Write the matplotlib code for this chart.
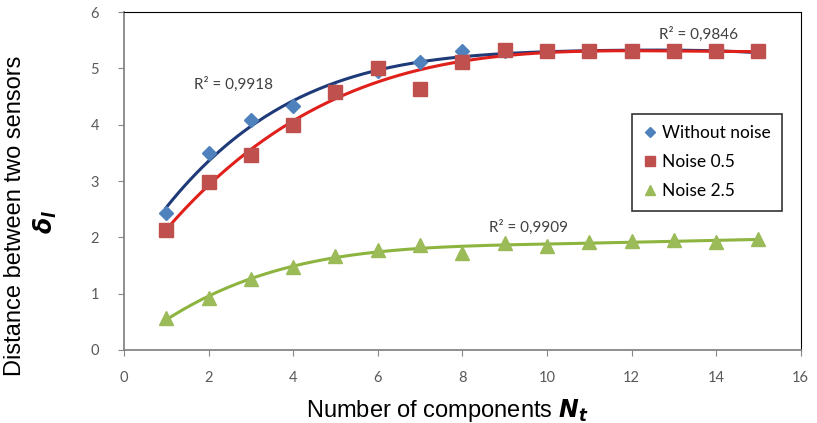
import numpy as np
import matplotlib
matplotlib.use("Agg")
import matplotlib.pyplot as plt

# data
n_comp = np.arange(1, 16)
no_noise = [2.43, 3.50, 4.08, 4.34, 4.60, 4.95, 5.12, 5.30, 5.30, 5.30, 5.30, 5.30, 5.30, 5.30, 5.30]
noise_05 = [2.13, 2.99, 3.47, 3.99, 4.58, 5.00, 4.63, 5.12, 5.33, 5.30, 5.30, 5.30, 5.30, 5.30, 5.30]
noise_25 = [0.56, 0.92, 1.26, 1.48, 1.66, 1.77, 1.87, 1.72, 1.90, 1.85, 1.91, 1.93, 1.96, 1.91, 1.97]
series_names = ["Without noise", "Noise 0.5", "Noise 2.5"]
r2_labels = ["R² = 0,9918", "R² = 0,9846", "R² = 0,9909"]

tick_font = "Lato"
label_font = "Liberation Sans"

fig = plt.figure(figsize=(8.17, 4.23), dpi=100)
ax = fig.add_axes([0.1518, 0.1726, 0.8282, 0.799])

styles = [
    dict(marker="D", ms=7, color="#4F81BD", line="#1F3A78"),
    dict(marker="s", ms=10, color="#C0504D", line="#E0201B"),
    dict(marker="^", ms=10, color="#9BBB59", line="#8DB43F"),
]

xs = np.linspace(1, 15, 200)
for vals, name, st in zip([no_noise, noise_05, noise_25], series_names, styles):
    ax.plot(n_comp, vals, linestyle="none", marker=st["marker"], ms=st["ms"],
            color=st["color"], label=name, zorder=3)
    # polynomial trendline like excel
    coef = np.polyfit(n_comp, vals, 4)
    ax.plot(xs, np.polyval(coef, xs), color=st["line"], lw=2.2, zorder=2)

r2_pos = [(1.65, 4.72), (12.65, 5.61), (8.63, 2.17)]
for (tx, ty), txt in zip(r2_pos, r2_labels):
    ax.text(tx, ty, txt, fontsize=11, color="#404040", family=tick_font, va="center")

ax.set_xlim(0, 16)
ax.set_ylim(0, 6)
ax.set_xticks(range(0, 17, 2))
ax.set_yticks(range(0, 7))
ax.tick_params(direction="out", length=4, color="#868686", labelcolor="#595959",
               labelsize=10.5, pad=11)
ax.tick_params(axis="y", pad=14)
for lbl in ax.get_xticklabels() + ax.get_yticklabels():
    lbl.set_family(tick_font)
ax.spines["left"].set_color("#868686")
ax.spines["bottom"].set_color("#868686")
ax.spines["left"].set_linewidth(1.3)
ax.spines["bottom"].set_linewidth(1.3)
ax.spines["top"].set_color("#000000")
ax.spines["right"].set_color("#000000")

leg = ax.legend(loc="upper left", bbox_to_anchor=(0.75, 0.698), frameon=True,
                fancybox=False, edgecolor="black", handlelength=0.8, handletextpad=0.3,
                labelspacing=0.75, borderpad=0.65, prop={"family": tick_font, "size": 12.5},
                markerscale=0.75, borderaxespad=0)
leg.get_frame().set_linewidth(1.2)

fig.text(0.018, 0.49, "Distance between two sensors", rotation=90, ha="center",
         va="center", fontsize=17, family=label_font)
fig.text(0.056, 0.475, r"$\mathbfit{\delta}_\mathbfit{l}$", rotation=90, ha="center",
         va="center", fontsize=17)
fig.text(0.548, 0.062, r"Number of components $\mathbfit{N}_\mathbfit{t}$", ha="center",
         va="top", fontsize=17, family=label_font)

fig.savefig("out.png", dpi=100)
